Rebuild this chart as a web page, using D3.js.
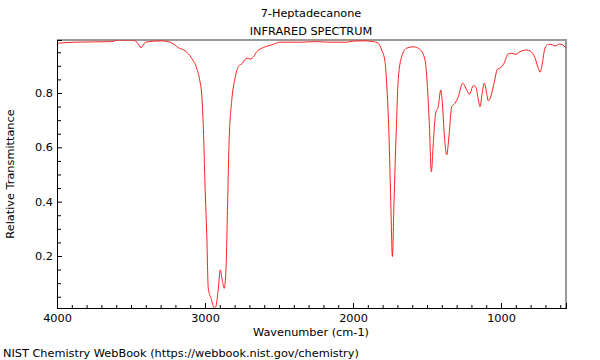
<!DOCTYPE html>
<html><head><meta charset="utf-8">
<script src="https://cdn.jsdelivr.net/npm/d3@7"></script>
<style>
html,body{margin:0;padding:0;background:#fff;}
text{font-family:"DejaVu Sans",sans-serif;fill:#000;}
</style></head>
<body>
<svg id="chart" width="600" height="360"></svg>
<script>
const titleLines = ["7-Heptadecanone", "INFRARED SPECTRUM"];
const xLabel = "Wavenumber (cm-1)";
const yLabel = "Relative Transmittance";
const footer = "NIST Chemistry WebBook (https://webbook.nist.gov/chemistry)";
const xTickValues = [4000, 3000, 2000, 1000];
const yTickValues = [0.2, 0.4, 0.6, 0.8];

const wavenumber = [4000,3878,3630,3588,3495,3461,3432,3401,3293,3236,3180,3135,3090,3056,3034,3022,3011,3000,2988,2978,2959,2937,2928,2910,2897,2882,2870,2858,2847,2838,2820,2797,2775,2748,2718,2696,2667,2651,2606,2538,2493,2358,2245,2155,2043,1998,1930,1863,1829,1806,1784,1772,1757,1745,1734,1723,1709,1694,1671,1637,1592,1547,1513,1497,1484,1471,1456,1442,1424,1407,1397,1383,1367,1351,1333,1311,1289,1259,1232,1214,1187,1171,1153,1142,1126,1113,1097,1086,1070,1047,1025,1002,980,951,928,899,872,826,804,770,748,736,723,703,680,653,635,606,583,563];
const transmittance = [0.983,0.987,0.989,0.995,0.995,0.987,0.967,0.987,0.992,0.987,0.967,0.955,0.928,0.891,0.842,0.793,0.670,0.461,0.277,0.081,0.044,0.009,0.012,0.081,0.149,0.106,0.081,0.155,0.400,0.609,0.768,0.854,0.897,0.909,0.928,0.925,0.937,0.952,0.967,0.979,0.987,0.987,0.989,0.987,0.987,0.991,0.992,0.989,0.983,0.958,0.915,0.829,0.645,0.400,0.198,0.400,0.645,0.854,0.934,0.965,0.970,0.960,0.920,0.820,0.680,0.510,0.630,0.725,0.750,0.811,0.768,0.645,0.572,0.645,0.750,0.762,0.786,0.836,0.811,0.795,0.827,0.823,0.774,0.750,0.805,0.836,0.799,0.771,0.786,0.836,0.887,0.893,0.909,0.944,0.946,0.942,0.952,0.958,0.955,0.928,0.891,0.876,0.903,0.965,0.979,0.977,0.973,0.980,0.977,0.967];

const FS = 11.3;
const svg = d3.select("#chart");
const L = 57, R = 566, T = 40, B = 308;
const x = d3.scaleLinear().domain([4000, 561]).range([L, R]);
const y = d3.scaleLinear().domain([0.0086, 0.995]).range([B, T]);

// titles
svg.selectAll("text.title").data(titleLines).enter().append("text")
  .attr("class","title").attr("x", 311).attr("y", (d,i)=>17 + i*18)
  .attr("text-anchor","middle").attr("font-size", FS).text(d=>d);

// clip
svg.append("clipPath").attr("id","clip").append("rect")
  .attr("x", L).attr("y", T).attr("width", R-L).attr("height", B-T);

// frame top/right
svg.append("path").attr("d", `M${L},${T}H${R}V${B}`)
  .attr("fill","none").attr("stroke","#999").attr("stroke-width",2);

// spectrum
const pts = wavenumber.map((w,i)=>[w, transmittance[i]]);
svg.append("path").datum(pts)
  .attr("clip-path","url(#clip)")
  .attr("fill","none").attr("stroke","#ff2020").attr("stroke-width",1)
  .attr("d", d3.line().x(d=>x(d[0])).y(d=>y(d[1])).curve(d3.curveMonotoneX));

// x axis
const xMinor = d3.range(600, 4001, 100).filter(v=>v%1000!==0);
const gx = svg.append("g").attr("transform",`translate(0,${B})`);
gx.call(d3.axisBottom(x).tickValues(xMinor).tickSize(-3).tickFormat(""));
gx.call(g=>g.append("g").call(d3.axisBottom(x).tickValues(xTickValues).tickSize(-5).tickFormat(d3.format("d"))));
gx.selectAll("text").attr("font-size",FS).attr("font-family","DejaVu Sans").attr("fill","#000").attr("dy","0").attr("y",14);

// y axis
const yMinor = d3.range(0.05, 0.99, 0.05).filter(v=>Math.abs(v*5-Math.round(v*5))>1e-6);
const gy = svg.append("g").attr("transform",`translate(${L},0)`);
gy.call(d3.axisLeft(y).tickValues(yMinor).tickSize(-4).tickFormat(""));
gy.call(g=>g.append("g").call(d3.axisLeft(y).tickValues(yTickValues).tickSize(-5).tickFormat(d3.format(".1f"))));
gy.selectAll("text").attr("font-size",FS).attr("font-family","DejaVu Sans").attr("fill","#000").attr("x",-4);
svg.selectAll(".domain").attr("stroke","#000");

// labels
svg.append("text").attr("x", 311).attr("y", 336).attr("text-anchor","middle")
  .attr("font-size",FS).text(xLabel);
svg.append("text").attr("transform",`translate(14,${(T+B)/2}) rotate(-90)`)
  .attr("text-anchor","middle").attr("font-size",FS).text(yLabel);
svg.append("text").attr("x", 3).attr("y", 357).attr("font-size",FS).text(footer);
</script>
</body></html>
